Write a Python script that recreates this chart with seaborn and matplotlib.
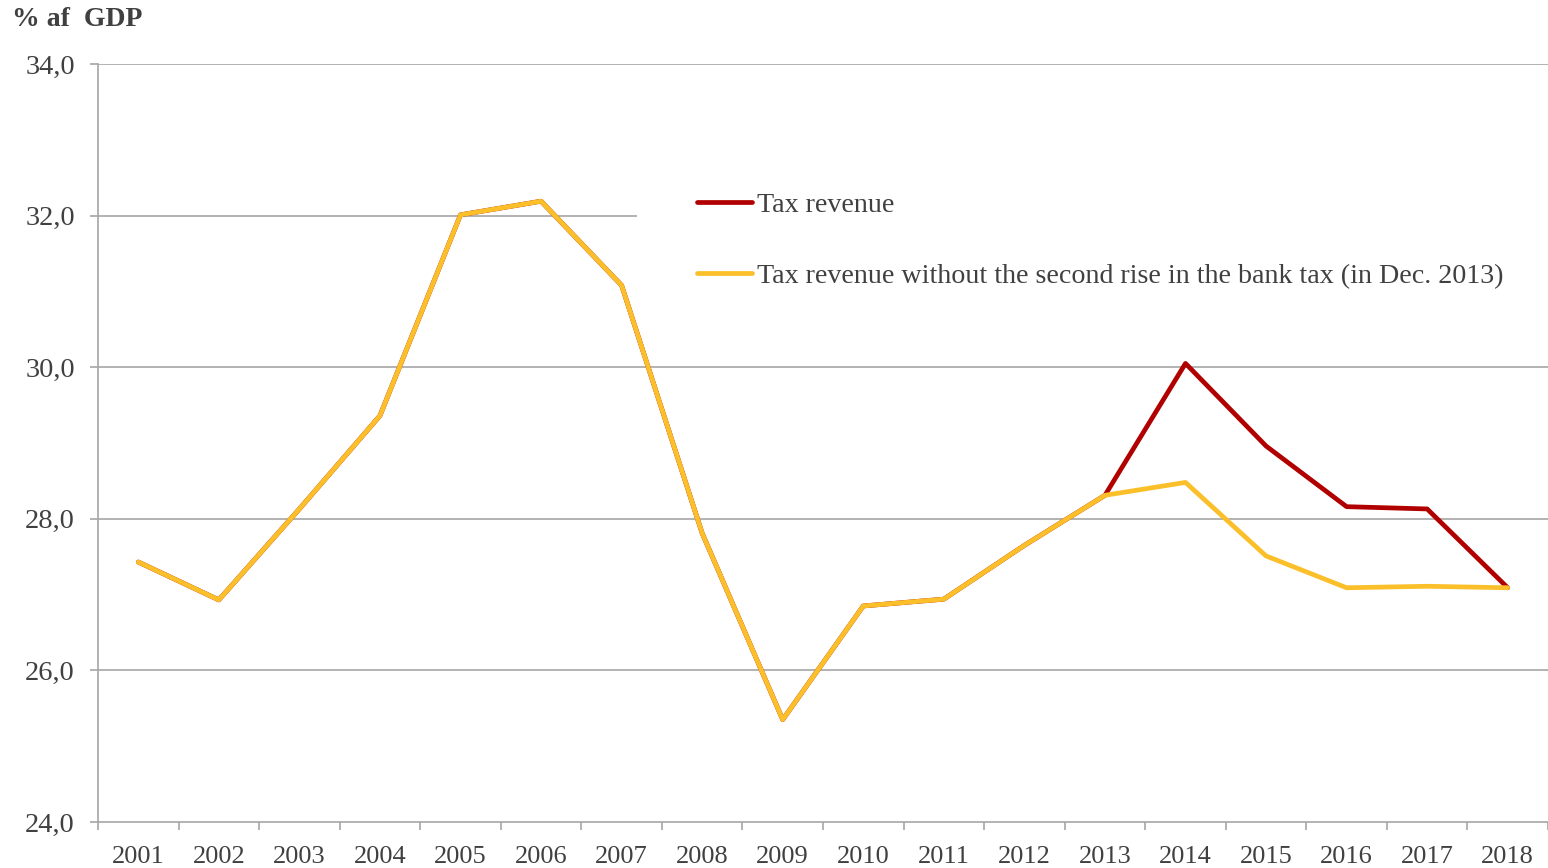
import matplotlib
matplotlib.use("Agg")
import matplotlib.pyplot as plt
import seaborn as sns
import pandas as pd
import numpy as np

years = ["2001", "2002", "2003", "2004", "2005", "2006", "2007", "2008", "2009",
         "2010", "2011", "2012", "2013", "2014", "2015", "2016", "2017", "2018"]
tax_revenue = [27.43, 26.93, 28.13, 29.36, 32.01, 32.19, 31.08, 27.81, 25.35,
               26.85, 26.94, 27.65, 28.31, 30.05, 28.96, 28.16, 28.13, 27.09]
tax_without_bank = [27.43, 26.93, 28.13, 29.36, 32.01, 32.19, 31.08, 27.81, 25.35,
                    26.85, 26.94, 27.65, 28.31, 28.48, 27.51, 27.09, 27.11, 27.09]
label_red = "Tax revenue"
label_yellow = "Tax revenue without the second rise in the bank tax (in Dec. 2013)"
y_ticks = [24.0, 26.0, 28.0, 30.0, 32.0, 34.0]
y_label = "% af  GDP"

sns.set_theme(style="white")
plt.rcParams['font.family'] = ['Liberation Serif', 'DejaVu Serif']

TXT = "#404040"
GRID = "#a6a6a6"
RED = "#b00000"
YEL = "#fbbf2a"
FS_X = 19
FS_Y = 20.5
FS_L = 20.2

fig = plt.figure(figsize=(15.48, 8.68), dpi=100)
W, H = 1548, 868
ax = fig.add_axes([98 / W, 1 - 822 / H, (1548 - 98) / W, (822 - 64) / H])

df = pd.DataFrame({"idx": np.arange(len(years)), "red": tax_revenue, "yel": tax_without_bank})

for yv in y_ticks[1:]:
    ax.axhline(yv, color=GRID, lw=1.2, zorder=0)

sns.lineplot(data=df, x="idx", y="red", ax=ax, color=RED, lw=3.4, label=label_red,
             solid_capstyle="round", solid_joinstyle="round", zorder=3)
sns.lineplot(data=df, x="idx", y="yel", ax=ax, color=YEL, lw=3.4, label=label_yellow,
             solid_capstyle="round", solid_joinstyle="round", zorder=4)

ax.set_xlim(-0.5, len(years) - 0.5)
ax.set_ylim(24, 34)
ax.set_xlabel("")
ax.set_ylabel("")

ax.set_xticks(np.arange(len(years)))
ax.set_xticklabels(years, fontsize=FS_X, color=TXT)
ax.set_xticks(np.arange(len(years) + 1) - 0.5, minor=True)
ax.tick_params(axis="x", which="major", length=0, pad=17)
ax.tick_params(axis="x", which="minor", length=5.6, width=1.2, color=GRID, direction="out", bottom=True)

ax.set_yticks(y_ticks)
ax.set_yticklabels([f"{v:.1f}".replace(".", ",") for v in y_ticks], fontsize=FS_Y, color=TXT)
ax.tick_params(axis="y", which="major", length=5.8, width=1.2, color=GRID, direction="out", left=True, pad=10.8)

for s in ["top", "right"]:
    ax.spines[s].set_visible(False)
for s in ["left", "bottom"]:
    ax.spines[s].set_color(GRID)
    ax.spines[s].set_linewidth(1.2)

leg = ax.legend(loc="upper left", bbox_to_anchor=(637 / W, 1 - 132 / H),
                bbox_transform=fig.transFigure, frameon=True, fancybox=False,
                facecolor="white", edgecolor="none", framealpha=1,
                fontsize=FS_L, handlelength=1.96, handletextpad=0.18,
                labelspacing=1.62, borderpad=2.14, borderaxespad=0)
for t in leg.get_texts():
    t.set_color(TXT)
leg.set_zorder(2)

fig.text(12 / W, 1 - 20 / H, y_label, fontsize=20, fontweight="bold", color=TXT,
         ha="left", va="center")

fig.savefig("out.png", dpi=100, facecolor="white")
